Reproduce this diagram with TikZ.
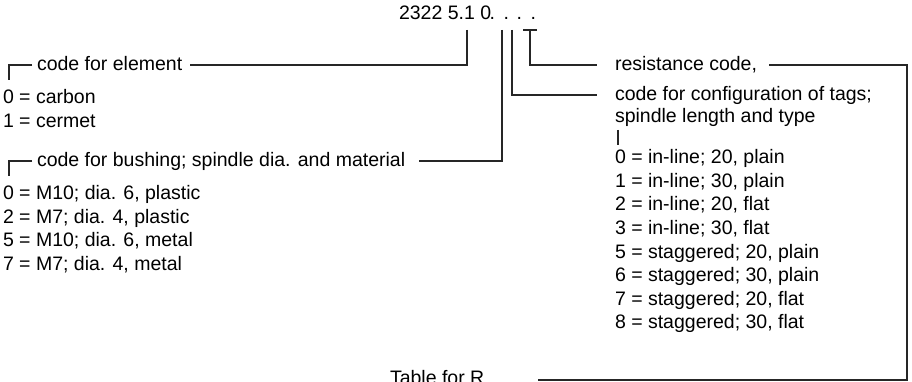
\documentclass[tikz,border=0pt]{standalone}
\usepackage{fontspec}
\setmainfont{Liberation Sans}
\usetikzlibrary{calc}
\begin{document}
\begin{tikzpicture}[x=1pt,y=-1pt,
  font=\fontsize{19.5}{22}\selectfont,
  txt/.style={anchor=base west, inner sep=0pt, outer sep=0pt},
  conn/.style={line width=1.2pt, draw=black!85}]
\fill[white] (0,0) rectangle (912,382);
\useasboundingbox (0,0) rectangle (912,382);
\clip (0,0) rectangle (912,382);

% top code
\node[txt] (code) at (399,20) {2322 5.1 0};
\node[txt] (d1) at (489.5,20) {.};
\node[txt] (d2) at (503.5,20) {.};
\node[txt] (d3) at (516.5,20) {.};
\node[txt] (d4) at (530.5,20) {.};
\coordinate (tE) at (467,30);
\coordinate (tB) at (502,30);
\coordinate (tC) at (512,30);
\coordinate (tR) at (530,30);
\coordinate (tRl) at (523,30);
\coordinate (tRr) at (537,30);

% left column
\node[txt] (elem) at (37,71) {code for element};
\node[txt] (carbon) at (3,104) {0 = carbon};
\node[txt] (cermet) at (3,128) {1 = cermet};
\node[txt] (bush) at (37,167) {code for bushing; spindle dia. and material};
\node[txt] (m1) at (3,199) {0 = M10; dia. 6, plastic};
\node[txt] (m2) at (3,223) {2 = M7; dia. 4, plastic};
\node[txt] (m3) at (3,246) {5 = M10; dia. 6, metal};
\node[txt] (m4) at (3,270) {7 = M7; dia. 4, metal};

% right column
\node[txt] (res) at (615,71) {resistance code,};
\node[txt] (conf) at (615,101) {code for configuration of tags;};
\node[txt] (spin) at (615,123) {spindle length and type};
\node[txt] (r0) at (615,164) {0 = in-line; 20, plain};
\node[txt] (r1) at (615,187.5) {1 = in-line; 30, plain};
\node[txt] (r2) at (615,211) {2 = in-line; 20, flat};
\node[txt] (r3) at (615,234.5) {3 = in-line; 30, flat};
\node[txt] (r5) at (615,258) {5 = staggered; 20, plain};
\node[txt] (r6) at (615,281.5) {6 = staggered; 30, plain};
\node[txt] (r7) at (615,305) {7 = staggered; 20, flat};
\node[txt] (r8) at (615,328.5) {8 = staggered; 30, flat};

% caption
\node[txt] (table) at (390,384) {Table for R};
\coordinate (cR) at (907,380);

% brackets
\draw[conn] ($(elem.base west)+(-5,-6)$) -| ($(elem.base west)+(-28,9)$);
\draw[conn] ($(bush.base west)+(-5,-6)$) -| ($(bush.base west)+(-28,9)$);
\draw[conn] ($(spin.base west)+(3,7)$) -- ($(spin.base west)+(3,22)$);

% connectors
\draw[conn] (tE) |- ($(elem.base east)+(8,-6)$);
\draw[conn] (tB) |- ($(bush.base east)+(14,-6)$);
\draw[conn] (tC) |- ($(conf.base west)+(-18,-6)$);
\draw[conn] (tRl) -- (tRr);
\draw[conn] (tR) |- ($(res.base west)+(-18,-6)$);
\draw[conn] ($(res.base east)+(12,-6)$) -| (cR) -- ($(table.base east)+(54,-4)$);
\end{tikzpicture}
\end{document}
